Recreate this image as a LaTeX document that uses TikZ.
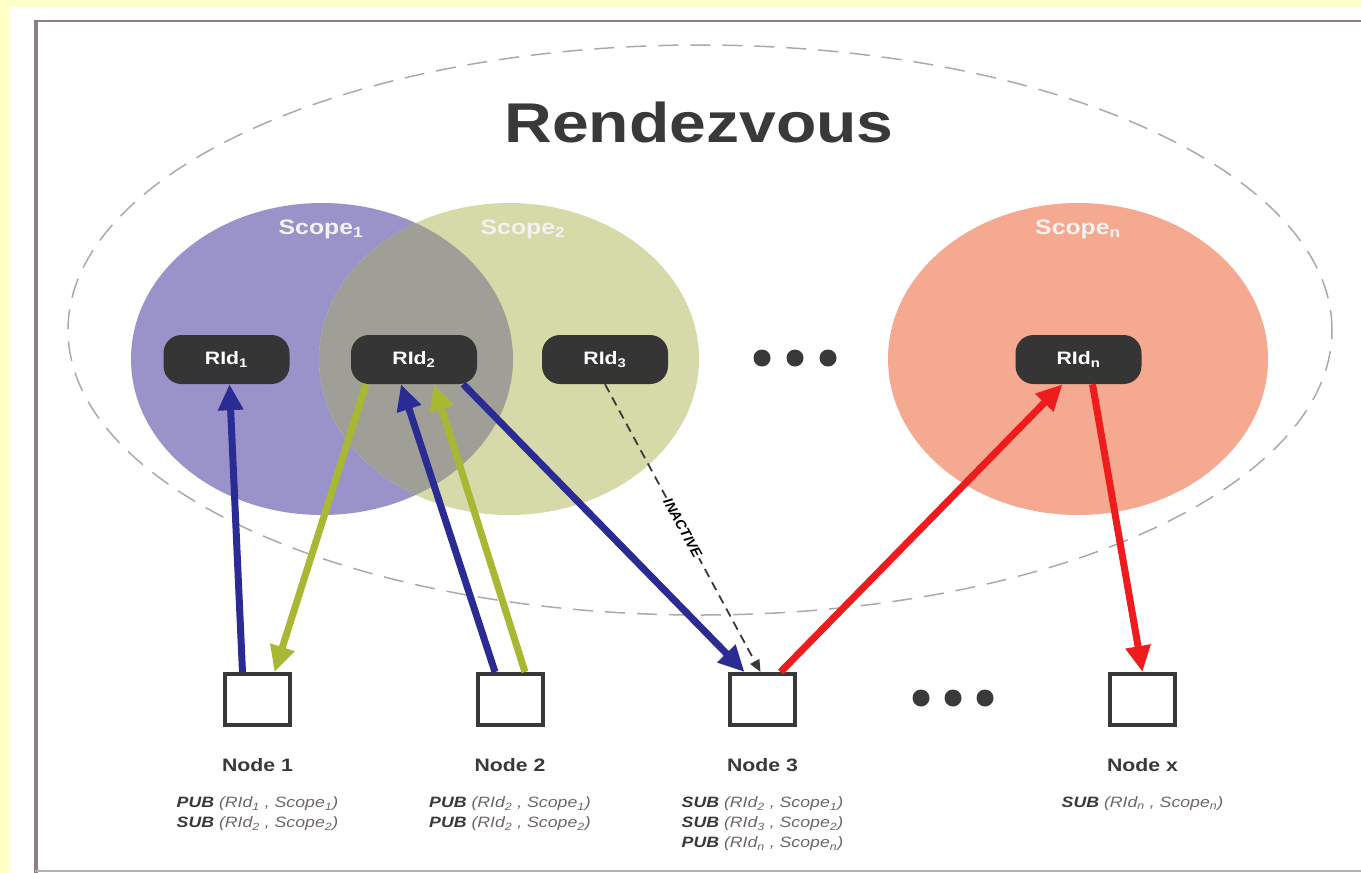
\documentclass[tikz,border=0pt]{standalone}
\usepackage{fontspec}
\setmainfont{Liberation Sans}
\usepackage{graphicx}
\usetikzlibrary{positioning, arrows.meta}
\definecolor{paperColor}{HTML}{FFFFC8}
\definecolor{frameColor}{HTML}{8C8080}
\definecolor{ringColor}{HTML}{B0A8A8}
\definecolor{scopeOneColor}{HTML}{9993C9}
\definecolor{scopeTwoColor}{HTML}{D6DAA9}
\definecolor{lensColor}{HTML}{9F9F97}
\definecolor{scopeNColor}{HTML}{F6A991}
\definecolor{ridColor}{HTML}{353535}
\definecolor{textDark}{HTML}{3A3838}
\definecolor{textGray}{HTML}{6E6666}
\definecolor{pubBlue}{HTML}{2B2B94}
\definecolor{subOlive}{HTML}{A9B832}
\definecolor{pubRed}{HTML}{EE1C1C}
\tikzstyle{pixels} = [x = 1pt, y = -1pt]
\tikzstyle{ridBox} = [fill=ridColor, rounded corners = 18pt, minimum width = 126pt, minimum height = 49pt, inner sep = 0, text=white, font=\fontsize{18}{18}\selectfont\bfseries]
\tikzstyle{peerBox} = [draw=textDark, line width = 4pt, fill=white, minimum width = 65pt, minimum height = 51pt]
\tikzstyle{peerLabel} = [inner sep = 0, text=textDark, font=\fontsize{18}{18}\selectfont\bfseries]
\tikzstyle{entryText} = [inner sep = 0, text=textGray, font=\fontsize{15}{20}\selectfont\itshape]
\tikzstyle{scopeLabel} = [inner sep = 0, text=white!95!black, font=\fontsize{21}{21}\selectfont\bfseries]
\tikzstyle{flow} = [line width = 7pt, -{Triangle[length=26pt, width=24pt]}]
\tikzstyle{inactiveLink} = [textDark, line width = 1.8pt, dash pattern = on 9pt off 6pt, -{Triangle[length=12pt, width=10pt]}]
\tikzstyle{inactiveText} = [sloped, solid, fill=white, inner sep = 1.5pt, text=black, font=\fontsize{14}{14}\selectfont\bfseries\itshape]
\newcommand{\widen}[1]{\scalebox{1.18}[1]{#1}}
\newcommand{\rendezvousId}[3]{\node [ridBox] (#1) at (#2, 359.5) {\widen{RId\textsubscript{#3}}};}
\newcommand{\peer}[3]{
  \node [peerBox] (#1) at (#2, 699.5) {};
  \node [peerLabel, below = 31pt of #1] (#1Label) {\widen{Node #3}};
}
\newcommand{\entries}[2]{\node [entryText, below = 22pt of #1Label] (#1Entries) {\widen{\begin{tabular}{@{}l@{}}#2\end{tabular}}};}
\newcommand{\pubEntry}[2]{{\color{textDark}\bfseries PUB} (RId\textsubscript{#1} , Scope\textsubscript{#2})}
\newcommand{\subEntry}[2]{{\color{textDark}\bfseries SUB} (RId\textsubscript{#1} , Scope\textsubscript{#2})}
\begin{document}
\begin{tikzpicture}[pixels]
  \useasboundingbox (0, 0) rectangle (1361, 873);
  \fill [paperColor] (0, 0) rectangle (1361, 873);
  \fill [white] (9, 7) rectangle (1361, 873);
  \draw [frameColor, line width = 4pt] (35.5, 20) -- (35.5, 873);
  \draw [frameColor, line width = 2pt] (33.5, 21) -- (1361, 21);
  \draw [gray!60, line width = 1.5pt] (35, 871) -- (1361, 871);
  % rendezvous ring
  \draw [ringColor, line width = 1.5pt, dash pattern = on 20pt off 12pt] (700, 330) ellipse [x radius = 632pt, y radius = 285pt];
  % scopes
  \fill [scopeOneColor] (322, 359) ellipse [x radius = 191pt, y radius = 156pt];
  \fill [scopeTwoColor] (509, 359) ellipse [x radius = 190pt, y radius = 156pt];
  \begin{scope}
    \clip (322, 359) ellipse [x radius = 191pt, y radius = 156pt];
    \fill [lensColor] (509, 359) ellipse [x radius = 190pt, y radius = 156pt];
  \end{scope}
  \fill [scopeNColor] (1078, 359) ellipse [x radius = 190pt, y radius = 156pt];
  \node [scopeLabel] (scopeOne) at (321, 229) {\widen{Scope\textsubscript{1}}};
  \node [scopeLabel] (scopeTwo) at (523, 229) {\widen{Scope\textsubscript{2}}};
  \node [scopeLabel] (scopeN) at (1078, 229) {\widen{Scope\textsubscript{n}}};
  \node [inner sep = 0, text=textDark, font=\fontsize{56}{56}\selectfont\bfseries] (title) at (699, 122) {\widen{Rendezvous}};
  \rendezvousId{rid1}{226.5}{1}
  \rendezvousId{rid2}{414}{2}
  \rendezvousId{rid3}{605}{3}
  \rendezvousId{ridN}{1078.5}{n}
  \foreach \dotX in {762, 795, 828} {
    \fill [textDark] (\dotX, 358) circle (8.5pt);
  }
  \foreach \dotX in {921, 953, 985} {
    \fill [textDark] (\dotX, 698) circle (8.5pt);
  }
  \peer{n1}{257.5}{1}
  \peer{n2}{510}{2}
  \peer{n3}{762.5}{3}
  \peer{nX}{1142.5}{x}
  \entries{n1}{\pubEntry{1}{1}\\ \subEntry{2}{2}}
  \entries{n2}{\pubEntry{2}{1}\\ \pubEntry{2}{2}}
  \entries{n3}{\subEntry{2}{1}\\ \subEntry{3}{2}\\ \pubEntry{n}{n}}
  \entries{nX}{\subEntry{n}{n}}
  % publish / subscribe links
  \draw [flow, pubBlue] ([xshift=-15pt]n1.north) -- ([xshift=3pt]rid1.south);
  \draw [flow, subOlive] ([xshift=-48pt]rid2.south) -- ([xshift=17pt]n1.north);
  \draw [flow, pubBlue] ([xshift=-15pt]n2.north) -- ([xshift=-13pt]rid2.south);
  \draw [flow, subOlive] ([xshift=15pt]n2.north) -- ([xshift=20pt]rid2.south);
  \draw [flow, pubBlue] ([xshift=-14pt]rid2.south east) -- ([xshift=-18pt]n3.north);
  \draw [inactiveLink] (rid3.south) -- node [inactiveText] {INACTIVE} ([xshift=-2pt]n3.north);
  \draw [flow, pubRed] ([xshift=18pt]n3.north) -- ([xshift=-16pt]ridN.south);
  \draw [flow, pubRed] ([xshift=14pt]ridN.south) -- (nX.north);
\end{tikzpicture}
\end{document}
